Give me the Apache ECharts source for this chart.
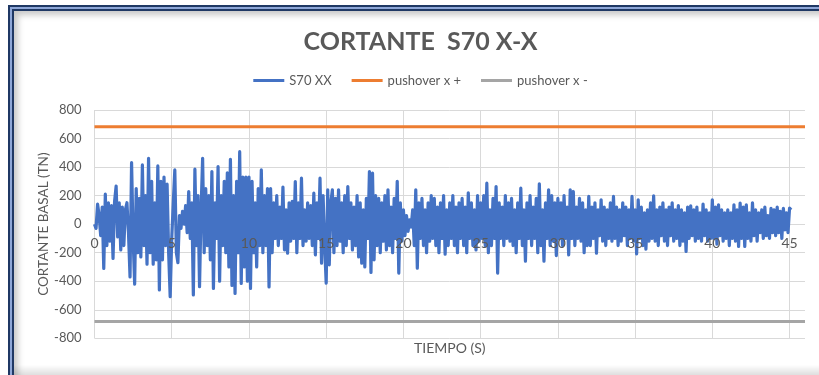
<!DOCTYPE html>
<html>
<head>
<meta charset="utf-8">
<title>CORTANTE S70 X-X</title>
<script src="https://cdn.jsdelivr.net/npm/echarts@6/dist/echarts.min.js"></script>
<style>
  html, body { margin: 0; padding: 0; background: #ffffff; }
  body { position: relative; width: 819px; height: 375px; overflow: hidden; }
  #chart { position: absolute; left: 14px; top: 11px; width: 813px; height: 364px; }
  /* navy double frame with a soft inner shadow */
  #frame {
    position: absolute; left: 14px; top: 11px; width: 900px; height: 500px;
    pointer-events: none; z-index: 5;
    box-shadow: 0 0 0 2px #1f3864, 0 0 0 4px #8ea7d8, 0 0 0 6px #1f3864,
                inset 4px 4px 6px rgba(0, 0, 0, 0.22);
  }
  #shade {
    position: absolute; left: 14px; top: 365px; width: 900px; height: 10px;
    pointer-events: none; z-index: 6;
    background: linear-gradient(to bottom, rgba(0,0,0,0), rgba(0,0,0,0.13));
  }
</style>
</head>
<body>
<div id="chart"></div>
<div id="frame"></div>
<div id="shade"></div>
<script>
// Base shear time history, sampled every DT seconds (one row per second)
const DT = 0.1;
const s70xx = [
  0, -30, 140, 60, -80, 120, -310, 210, -150, 150,
  -120, 130, -240, 160, 267, -90, 150, -180, 120, -150,
  100, 150, -60, -370, 431, -100, -420, 250, -200, 180,
  -230, 415, -150, 200, -280, 461, -200, 300, -280, 150,
  -250, 408, -461, 300, -250, 330, -150, 280, -200, -508,
  -100, 150, 380, -200, -270, 60, -30, 90, 0, 130,
  -60, 228, -100, 150, -496, 385, -150, 200, -438, 100,
  461, -200, 250, -150, 200, -250, 368, -450, 150, -100,
  403, -400, 200, -150, 300, -200, 360, -300, 455, -430,
  200, -485, 300, -200, 508, -415, 330, -300, 330, -400,
  330, -450, 300, -200, 150, -300, 250, -150, 380, -200,
  200, -150, 250, -440, 250, -200, 150, -100, 200, -150,
  120, -100, 260, -180, 100, -203, 150, -120, 160, -100,
  299, -200, 150, -100, 322, -150, 100, -120, 150, -100,
  130, -150, 217, -215, 150, -100, 322, -273, 200, -150,
  -413, 240, -285, 150, 240, -200, 180, -150, 240, -120,
  150, -200, 200, -150, 264, -100, 150, -180, 120, -150,
  200, -230, 150, -273, 100, -300, 180, -100, 369, -339,
  357, -250, 200, -150, 180, -200, 150, -120, 200, -180,
  240, -150, 120, -200, 180, -100, 300, -343, 150, -120,
  100, -80, 60, -50, 30, -20, 100, -150, 240, -308,
  150, -100, 180, -150, 100, -200, 150, -120, 200, -100,
  180, -150, 120, -200, 150, -100, 200, -210, 100, -150,
  150, -100, 200, -150, 120, -200, 150, -100, 180, -150,
  120, -200, 220, -100, 150, -150, 100, -180, 200, -120,
  150, -100, 200, -150, 287, -200, 100, -150, 180, -100,
  264, -343, 150, -100, 120, -150, 200, -100, 150, -120,
  180, -150, 100, -200, 150, -100, 252, -150, 100, -260,
  150, -100, 200, -150, 120, -100, 180, -200, 283, -150,
  100, -260, 150, -100, 240, -150, 200, -120, 150, -220,
  180, -100, 150, -150, 200, -100, 120, -215, 240, -100,
  229, -150, 120, -100, 180, -120, 150, -200, 100, -150,
  194, -150, 120, -100, 150, -203, 100, -80, 170, -120,
  120, -150, 100, -100, 150, -120, 194, -100, 120, -150,
  100, -120, 150, -80, 120, -150, 100, -100, 194, -120,
  100, -208, 170, -100, 120, -150, 80, -175, 100, -120,
  150, -100, 199, -120, 100, -150, 120, -80, 150, -120,
  100, -150, 120, -80, 150, -120, 100, -100, 130, -150,
  100, -120, 80, -191, 120, -100, 128, -80, 100, -120,
  120, -100, 80, -120, 140, -80, 100, -120, 80, -100,
  170, -100, 120, -140, 135, -80, 100, -120, 80, -100,
  100, -150, 80, -100, 135, -120, 100, -156, 147, -100,
  120, -156, 135, -100, 80, -120, 150, -80, 100, -120,
  80, -60, 100, -100, 120, -80, 60, -100, 110, -60,
  100, -80, 120, -60, 90, -100, 110, -40, 80, -60,
  112, 100
];

// Pushover capacity limits (constant over the record)
const pushoverTime = [0, 46];
const pushoverPos = [683, 683];
const pushoverNeg = [-683, -683];

const seriesNames = ['S70 XX', 'pushover x +', 'pushover x -'];
const seriesColors = ['#4472c4', '#ed7d31', '#a5a5a5'];

const FONT = 'Lato, "Open Sans", sans-serif';
const TEXT = '#595959';
const GRID = '#d9d9d9';

const GRID_TOP = 99;
const GRID_BOTTOM = 36.7;
const CHART_H = 364;
// the time labels sit on the zero line, half-way down the symmetric value range
const PLOT_H = CHART_H - GRID_TOP - GRID_BOTTOM;

const timeScale = { type: 'value', min: 0, max: 46, interval: 5 };

const chart = echarts.init(document.getElementById('chart'), null, { renderer: 'canvas' });

chart.setOption({
  animation: false,
  backgroundColor: 'transparent',
  title: {
    text: 'CORTANTE  S70 X-X',
    left: 'center',
    top: 13,
    textStyle: { fontFamily: FONT, fontSize: 25, fontWeight: 'bold', color: TEXT }
  },
  legend: {
    top: 58,
    left: 'center',
    icon: 'rect',
    itemWidth: 31,
    itemHeight: 3,
    itemGap: 20,
    textStyle: { fontFamily: FONT, fontSize: 13, color: TEXT },
    data: seriesNames
  },
  grid: {
    left: 80.5, right: 22, top: GRID_TOP, bottom: GRID_BOTTOM,
    containLabel: false,
    outerBoundsMode: 'none'
  },
  xAxis: [
    // vertical gridlines, drawn beneath the series
    Object.assign({}, timeScale, {
      position: 'top',
      axisLine: { show: false, onZero: false },
      axisTick: { show: false },
      axisLabel: { show: false },
      splitLine: { show: true, showMaxLine: false, lineStyle: { color: GRID, width: 1 } }
    }),
    // time labels on the zero line, drawn above the series
    Object.assign({}, timeScale, {
      position: 'bottom',
      offset: -PLOT_H / 2,
      z: 10,
      name: 'TIEMPO (S)',
      nameLocation: 'middle',
      nameGap: PLOT_H / 2 + 3,
      nameTextStyle: { fontFamily: FONT, fontSize: 14, color: TEXT },
      axisLine: { show: false, onZero: false },
      axisTick: { show: false },
      axisLabel: {
        fontFamily: FONT, fontSize: 14, color: TEXT, margin: 12,
        showMaxLabel: false
      },
      splitLine: { show: false }
    })
  ],
  yAxis: {
    type: 'value',
    min: -800, max: 800, interval: 200,
    name: 'CORTANTE BASAL (TN)',
    nameLocation: 'middle',
    nameGap: 44,
    nameMoveOverlap: false,
    nameTextStyle: { fontFamily: FONT, fontSize: 13.5, color: TEXT },
    axisLine: { show: false },
    axisTick: { show: false },
    axisLabel: { fontFamily: FONT, fontSize: 13, color: TEXT, margin: 13 },
    splitLine: { show: true, lineStyle: { color: GRID, width: 1 } }
  },
  series: [
    {
      name: seriesNames[0],
      type: 'line',
      xAxisIndex: 0,
      data: s70xx.map((v, i) => [Math.round(i * DT * 10) / 10, v]),
      showSymbol: false,
      symbol: 'none',
      sampling: null,
      lineStyle: { color: seriesColors[0], width: 3.2, join: 'round' },
      itemStyle: { color: seriesColors[0] },
      z: 3
    },
    {
      name: seriesNames[1],
      type: 'line',
      xAxisIndex: 0,
      data: pushoverTime.map((t, i) => [t, pushoverPos[i]]),
      showSymbol: false,
      symbol: 'none',
      lineStyle: { color: seriesColors[1], width: 3 },
      itemStyle: { color: seriesColors[1] },
      z: 4
    },
    {
      name: seriesNames[2],
      type: 'line',
      xAxisIndex: 0,
      data: pushoverTime.map((t, i) => [t, pushoverNeg[i]]),
      showSymbol: false,
      symbol: 'none',
      lineStyle: { color: seriesColors[2], width: 3 },
      itemStyle: { color: seriesColors[2] },
      z: 4
    }
  ]
});
</script>
</body>
</html>
